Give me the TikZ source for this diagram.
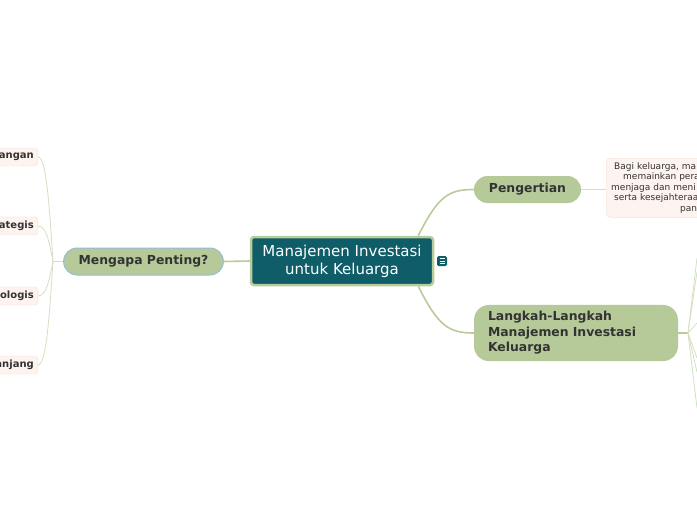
\documentclass[tikz,border=0pt]{standalone}
\usepackage{fontspec}
\setmainfont{DejaVu Sans}
\definecolor{mmteal}{HTML}{0E5D68} \definecolor{mmborder}{HTML}{B7CC9A} \definecolor{mmsage}{HTML}{B6CA99}
\definecolor{mmtext}{HTML}{333333} \definecolor{mmleaf}{HTML}{FDF3EF} \definecolor{mmleafline}{HTML}{EFE3DA}
\definecolor{mmtwig}{HTML}{D3E0C2} \definecolor{mmblue}{HTML}{95BCD9}
\tikzset{pill/.style={rounded corners=13.5pt, fill=mmsage, text=mmtext, minimum height=27pt, inner xsep=15pt, font=\fontsize{12.4}{15.5}\selectfont\bfseries},
leaf/.style={fill=mmleaf, draw=mmleafline, rounded corners=3pt, text=mmtext, text width=80pt, align=right, minimum height=18pt, inner xsep=4pt, font=\fontsize{10}{12}\selectfont\bfseries},
link/.style={mmborder, line width=1.6pt}, twig/.style={mmtwig, line width=0.8pt}}
\begin{document}
\begin{tikzpicture}[x=1pt,y=-1pt]
\useasboundingbox (0,0) rectangle (697,520); \clip (0,0) rectangle (697,520);
\node[fill=mmteal, draw=mmborder, line width=2.5pt, rounded corners=3pt, text=white, minimum width=182pt, minimum height=48pt, align=center, font=\fontsize{15}{18}\selectfont] (main) at (342,261) {Manajemen Investasi\\untuk Keluarga};
\node[fill=mmteal, rounded corners=1.5pt, minimum size=10pt, inner sep=0pt] (noteicon) at (442,261) {};
\foreach \d in {-2.5,0,2.5} { \draw[white, line width=0.8pt] ([xshift=-2.5pt,yshift=\d pt]noteicon.center) -- ++(5,0); };
\node[pill, draw=mmblue, line width=1pt] (mengapa) at (143.5,261.5) {Mengapa Penting?};
\node[pill] (peng) at (527.5,189.5) {Pengertian};
\node[pill, rounded corners=15pt, text width=176pt, align=left, inner xsep=14pt, inner ysep=6.5pt] (langkah) at (576,333) {Langkah-Langkah\\Manajemen Investasi\\Keluarga};
\node[fill=mmleaf, draw=mmleafline, rounded corners=4pt, text=mmtext, text width=110pt, align=left, inner xsep=5pt, inner ysep=4pt, anchor=north west, font=\fontsize{9}{10.6}\selectfont] (def) at (606,158) {\hspace*{3pt}Bagi keluarga, ma\\\hspace*{12pt}memainkan pera\\menjaga dan meni\\\hspace*{3pt}serta kesejahteraa\\\hspace*{69pt}pan};
\foreach \k/\y/\t in { k1/157/angan , k2/226/ategis , k3/296/ologis , k4/365/anjang } { \node[leaf, anchor=east] (\k) at (38,\y) {\t}; };
\draw[link] (mengapa.east) -- (main.west);
\draw[link] ([xshift=-16pt]main.north east) .. controls +(20,-40) and +(-25,0) .. (peng.west);
\draw[link] ([xshift=-16pt]main.south east) .. controls +(20,40) and +(-25,0) .. (langkah.west);
\draw[twig] (peng.east) -- (def.west |- peng.east);
\coordinate (jl) at (53,261.5); \draw[twig] (mengapa.west) -- (jl);
\foreach \k/\c in { k1/200 , k2/240 , k3/282 , k4/322 } { \draw[twig] (jl) .. controls (49,\c) and ([xshift=8pt]\k.east) .. (\k.east); };
\coordinate (jr) at (688,333); \draw[link, line width=1.2pt] (langkah.east) -- (jr);
\foreach \n/\y in { r1/258 , r2/272 , r3/323 , r4/358 , r5/372 , r6/408 } { \coordinate (\n) at (697,\y); \draw[twig] (jr) -- (\n); };
\end{tikzpicture}
\end{document}
